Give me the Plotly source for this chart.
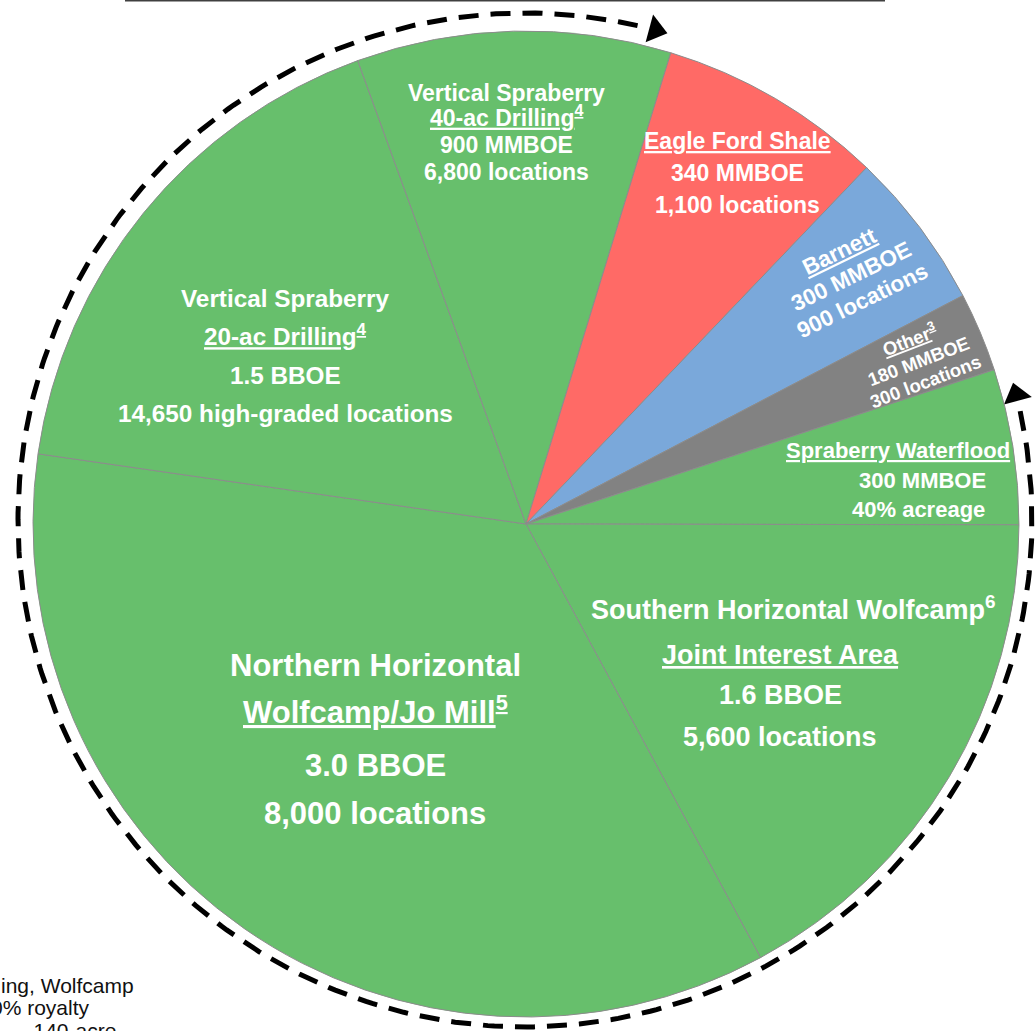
import numpy as np
import plotly.graph_objects as go

# slices, clockwise from the 3 o'clock waterflood boundary (share of circle, %)
segments = ["Spraberry Waterflood", "Southern Horizontal Wolfcamp", "Northern Horizontal Wolfcamp/Jo Mill",
            "Vertical Spraberry 20-ac", "Vertical Spraberry 40-ac", "Eagle Ford Shale", "Barnett", "Other"]
shares = [5.1, 17.1, 35.2, 17.2, 10.3, 7.4, 5.2, 2.6]
colors = ["#67BF6C", "#67BF6C", "#67BF6C", "#67BF6C", "#67BF6C", "#FF6A66", "#7AA8DA", "#828282"]

lbl_waterflood = ["<u>Spraberry Waterflood</u>", "300 MMBOE", "40% acreage"]
lbl_southern = ["Southern Horizontal Wolfcamp<sup>6</sup>", "<u>Joint Interest Area</u>", "1.6 BBOE", "5,600 locations"]
lbl_northern = ["Northern Horizontal", "<u>Wolfcamp/Jo Mill<sup>5</sup></u>", "3.0 BBOE", "8,000 locations"]
lbl_20ac = ["Vertical Spraberry", "<u>20-ac Drilling<sup>4</sup></u>", "1.5 BBOE", "14,650 high-graded locations"]
lbl_40ac = ["Vertical Spraberry", "<u>40-ac Drilling<sup>4</sup></u>", "900 MMBOE", "6,800 locations"]
lbl_eagle = ["<u>Eagle Ford Shale</u>", "340 MMBOE", "1,100 locations"]
lbl_barnett = ["<u>Barnett</u>", "300 MMBOE", "900 locations"]
lbl_other = ["<u>Other<sup>3</sup></u>", "180 MMBOE", "300 locations"]
footnote = ["ing, Wolfcamp", "0% royalty", "\u2013 140-acre"]

W, H = 1035, 1031
cx, cy, r = 526, 524, 493          # pie centre / radius in px
acx, acy, ar = 525, 520, 507       # dashed arrow circle
FONT = "Liberation Sans, Arial, sans-serif"

fig = go.Figure()

fig.add_trace(go.Pie(
    labels=segments, values=shares, sort=False, direction="clockwise",
    rotation=90 - 18.25, textinfo="none", hoverinfo="label",
    marker=dict(colors=colors, line=dict(color="#8C8C8C", width=1)),
    domain=dict(x=[(cx - r) / W, (cx + r) / W], y=[(H - cy - r) / H, (H - cy + r) / H]),
    showlegend=False,
))

# dashed arc around the pie, open over the upper right (tips at 15.7 and 73.7 deg)
a0, a1 = np.radians(15.7 - 3.3), np.radians(73.7 - 360 + 3.3)
t = np.linspace(a0, a1, 400)
fig.add_trace(go.Scatter(x=acx + ar * np.cos(t), y=acy - ar * np.sin(t), mode="lines",
                         line=dict(color="black", width=5, dash="20px,12px"),
                         hoverinfo="skip", showlegend=False))

# arrow heads at both ends
ha = np.radians([73.7 + 1.4, 15.7 - 1.4])
fig.add_trace(go.Scatter(x=acx + ar * np.cos(ha), y=acy - ar * np.sin(ha), mode="markers",
                         marker=dict(symbol="triangle-up", size=25, color="black", angle=[105, -15]),
                         hoverinfo="skip", showlegend=False))


def add_text(s, x, y, size, angle=0):
    fig.add_annotation(x=x, y=y, text="<b>" + s + "</b>", textangle=-angle, showarrow=False,
                       xanchor="center", yanchor="middle",
                       font=dict(family=FONT, size=size, color="white"))


def add_lines(lines, xs, ys, size):
    if np.isscalar(xs):
        xs = [xs] * len(lines)
    for s, x, y in zip(lines, xs, ys):
        if "<sup>" in s:
            y -= 0.09 * size
        add_text(s, x, y, size)


def add_rotated(lines, x0, y0, size, spacing, angle):
    n = len(lines)
    th = np.radians(angle)
    for i, s in enumerate(lines):
        off = (i - (n - 1) / 2) * spacing
        if "<sup>" in s:
            off -= 0.09 * size
        add_text(s, x0 + off * np.sin(th), y0 + off * np.cos(th), size, angle)


add_lines(lbl_40ac, 506, [93, 118, 145, 172], 23)
add_lines(lbl_eagle, 737, [141, 173, 205], 23)
add_lines(lbl_20ac, 285, [298, 337, 375, 413], 24.3)
add_lines(lbl_northern, 375, [665, 713, 765, 813], 31)
add_lines(lbl_southern, [793, 780, 780, 780], [610, 655, 695, 737], 27)
add_lines(lbl_waterflood, [898, 922, 918], [450, 480, 509], 22)
add_rotated(lbl_barnett, 851, 276, 22.5, 27, 26)
add_rotated(lbl_other, 918, 361, 18.5, 22, 21)

# footnote text cut by the left/bottom edge of the picture
for s, x, y, anchor in zip(footnote, [136, 92, 14], [985, 1007, 1030], ["right", "right", "left"]):
    fig.add_annotation(x=x, y=y, text=s, showarrow=False, xanchor=anchor, yanchor="middle",
                       font=dict(family=FONT, size=21, color="#111111"))

fig.add_shape(type="line", x0=125, x1=885, y0=0.5, y1=0.5, line=dict(color="#404040", width=2))

fig.update_layout(
    width=W, height=H, margin=dict(l=0, r=0, t=0, b=0),
    paper_bgcolor="white", plot_bgcolor="rgba(0,0,0,0)",
    xaxis=dict(range=[0, W], visible=False, fixedrange=True),
    yaxis=dict(range=[H, 0], visible=False, fixedrange=True),
)

fig.write_html("out.html", config={"displayModeBar": False},
               post_script="document.body.style.margin='0px';")
